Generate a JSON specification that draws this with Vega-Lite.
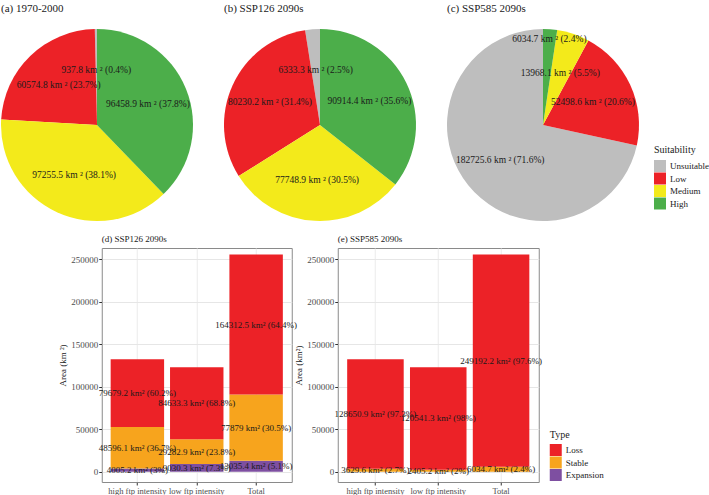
{
  "$schema": "https://vega.github.io/schema/vega-lite/v6.json",
  "background": "white",
  "padding": {"left": 1, "top": 3, "right": 0, "bottom": 0},
  "config": {
    "view": {"stroke": null},
    "font": "Liberation Serif",
    "title": {"font": "Liberation Serif", "fontWeight": "normal", "anchor": "start", "color": "#1a1a1a"},
    "axis": {"labelFont": "Liberation Serif", "titleFont": "Liberation Serif", "titleFontWeight": "normal"},
    "legend": {"labelFont": "Liberation Serif", "titleFont": "Liberation Serif", "titleFontWeight": "normal"},
    "text": {"font": "Liberation Serif"}
  },
  "datasets": {
    "suit": [
      {"panel": "a", "Suitability": "Unsuitable", "area": 937.8, "pct": 0.4},
      {"panel": "a", "Suitability": "Low", "area": 60574.8, "pct": 23.7},
      {"panel": "a", "Suitability": "Medium", "area": 97255.5, "pct": 38.1},
      {"panel": "a", "Suitability": "High", "area": 96458.9, "pct": 37.8},
      {"panel": "b", "Suitability": "Unsuitable", "area": 6333.3, "pct": 2.5},
      {"panel": "b", "Suitability": "Low", "area": 80230.2, "pct": 31.4},
      {"panel": "b", "Suitability": "Medium", "area": 77748.9, "pct": 30.5},
      {"panel": "b", "Suitability": "High", "area": 90914.4, "pct": 35.6},
      {"panel": "c", "Suitability": "Unsuitable", "area": 182725.6, "pct": 71.6},
      {"panel": "c", "Suitability": "Low", "area": 52498.6, "pct": 20.6},
      {"panel": "c", "Suitability": "Medium", "area": 13968.1, "pct": 5.5},
      {"panel": "c", "Suitability": "High", "area": 6034.7, "pct": 2.4}
    ],
    "change": [
      {"scenario": "SSP126", "group": "high ftp intensity", "Type": "Expansion", "area": 4005.2, "pct": 3},
      {"scenario": "SSP126", "group": "high ftp intensity", "Type": "Stable", "area": 48596.1, "pct": 36.7},
      {"scenario": "SSP126", "group": "high ftp intensity", "Type": "Loss", "area": 79679.2, "pct": 60.2},
      {"scenario": "SSP126", "group": "low ftp intensity", "Type": "Expansion", "area": 9030.3, "pct": 7.3},
      {"scenario": "SSP126", "group": "low ftp intensity", "Type": "Stable", "area": 29282.9, "pct": 23.8},
      {"scenario": "SSP126", "group": "low ftp intensity", "Type": "Loss", "area": 84633.3, "pct": 68.8},
      {"scenario": "SSP126", "group": "Total", "Type": "Expansion", "area": 13035.4, "pct": 5.1},
      {"scenario": "SSP126", "group": "Total", "Type": "Stable", "area": 77879, "pct": 30.5},
      {"scenario": "SSP126", "group": "Total", "Type": "Loss", "area": 164312.5, "pct": 64.4},
      {"scenario": "SSP585", "group": "high ftp intensity", "Type": "Stable", "area": 3629.6, "pct": 2.7},
      {"scenario": "SSP585", "group": "high ftp intensity", "Type": "Loss", "area": 128650.9, "pct": 97.3},
      {"scenario": "SSP585", "group": "low ftp intensity", "Type": "Stable", "area": 2405.2, "pct": 2},
      {"scenario": "SSP585", "group": "low ftp intensity", "Type": "Loss", "area": 120541.3, "pct": 98},
      {"scenario": "SSP585", "group": "Total", "Type": "Stable", "area": 6034.7, "pct": 2.4},
      {"scenario": "SSP585", "group": "Total", "Type": "Loss", "area": 249192.2, "pct": 97.6}
    ]
  },
  "vconcat": [
    {
      "hconcat": [
        {
          "width": 192, "height": 192,
          "title": {"text": "(a) 1970-2000", "fontSize": 11, "offset": 15},
          "data": {"name": "suit"},
          "transform": [
            {"filter": "datum.panel === 'a'"},
            {"calculate": "indexof(['High','Medium','Low','Unsuitable'], datum.Suitability)", "as": "k"},
            {"joinaggregate": [{"op": "sum", "field": "area", "as": "total"}]},
            {"stack": "area", "groupby": ["panel"], "sort": [{"field": "k", "order": "ascending"}], "as": ["t0", "t1"]},
            {"calculate": "datum.t0 / datum.total", "as": "f0"},
            {"calculate": "datum.t1 / datum.total", "as": "f1"},
            {"calculate": "(datum.f0 + datum.f1) / 2", "as": "fm"},
            {"calculate": "datum.area + ' km ² (' + datum.pct + '%)'", "as": "lab"}
          ],
          "layer": [
            {
              "mark": {"type": "arc", "outerRadius": 96},
              "encoding": {
                "theta": {"field": "f0", "type": "quantitative", "scale": {"domain": [0, 1], "nice": false}},
                "theta2": {"field": "f1"},
                "color": {"field": "Suitability", "type": "nominal", "legend": null,
                  "scale": {"domain": ["Unsuitable", "Low", "Medium", "High"], "range": ["#BEBEBE", "#EC2227", "#F3EA1B", "#4CAE4A"]}}
              }
            },
            {
              "mark": {"type": "text", "radius": 55, "fontSize": 9.5, "color": "#1a1a1a"},
              "encoding": {"theta": {"field": "fm", "type": "quantitative"}, "text": {"field": "lab"}}
            }
          ]
        },
        {
          "width": 192, "height": 192,
          "title": {"text": "(b) SSP126 2090s", "fontSize": 11, "offset": 15},
          "data": {"name": "suit"},
          "transform": [
            {"filter": "datum.panel === 'b'"},
            {"calculate": "indexof(['High','Medium','Low','Unsuitable'], datum.Suitability)", "as": "k"},
            {"joinaggregate": [{"op": "sum", "field": "area", "as": "total"}]},
            {"stack": "area", "groupby": ["panel"], "sort": [{"field": "k", "order": "ascending"}], "as": ["t0", "t1"]},
            {"calculate": "datum.t0 / datum.total", "as": "f0"},
            {"calculate": "datum.t1 / datum.total", "as": "f1"},
            {"calculate": "(datum.f0 + datum.f1) / 2", "as": "fm"},
            {"calculate": "datum.area + ' km ² (' + datum.pct + '%)'", "as": "lab"}
          ],
          "layer": [
            {
              "mark": {"type": "arc", "outerRadius": 96},
              "encoding": {
                "theta": {"field": "f0", "type": "quantitative", "scale": {"domain": [0, 1], "nice": false}},
                "theta2": {"field": "f1"},
                "color": {"field": "Suitability", "type": "nominal", "legend": null,
                  "scale": {"domain": ["Unsuitable", "Low", "Medium", "High"], "range": ["#BEBEBE", "#EC2227", "#F3EA1B", "#4CAE4A"]}}
              }
            },
            {
              "mark": {"type": "text", "radius": 55, "fontSize": 9.5, "color": "#1a1a1a"},
              "encoding": {"theta": {"field": "fm", "type": "quantitative"}, "text": {"field": "lab"}}
            }
          ]
        },
        {
          "width": 192, "height": 192,
          "title": {"text": "(c) SSP585 2090s", "fontSize": 11, "offset": 15},
          "data": {"name": "suit"},
          "transform": [
            {"filter": "datum.panel === 'c'"},
            {"calculate": "indexof(['High','Medium','Low','Unsuitable'], datum.Suitability)", "as": "k"},
            {"joinaggregate": [{"op": "sum", "field": "area", "as": "total"}]},
            {"stack": "area", "groupby": ["panel"], "sort": [{"field": "k", "order": "ascending"}], "as": ["t0", "t1"]},
            {"calculate": "datum.t0 / datum.total", "as": "f0"},
            {"calculate": "datum.t1 / datum.total", "as": "f1"},
            {"calculate": "(datum.f0 + datum.f1) / 2", "as": "fm"},
            {"calculate": "datum.area + ' km ² (' + datum.pct + '%)'", "as": "lab"}
          ],
          "layer": [
            {
              "mark": {"type": "arc", "outerRadius": 96},
              "encoding": {
                "theta": {"field": "f0", "type": "quantitative", "scale": {"domain": [0, 1], "nice": false}},
                "theta2": {"field": "f1"},
                "color": {"field": "Suitability", "type": "nominal",
                  "scale": {"domain": ["Unsuitable", "Low", "Medium", "High"], "range": ["#BEBEBE", "#EC2227", "#F3EA1B", "#4CAE4A"]},
                  "legend": {"title": "Suitability", "orient": "none", "legendX": 207, "legendY": 116, "padding": 0,
                    "symbolType": "square", "symbolSize": 144, "symbolStrokeWidth": 0, "rowPadding": 0.5,
                    "titleFontSize": 10, "labelFontSize": 9, "titleColor": "#1a1a1a", "labelColor": "#1a1a1a",
                    "titlePadding": 5, "labelOffset": 4}}
              }
            },
            {
              "mark": {"type": "text", "radius": {"expr": "datum.Suitability === 'High' ? 86 : 55"}, "fontSize": 9.5, "color": "#1a1a1a"},
              "encoding": {"theta": {"field": "fm", "type": "quantitative"}, "text": {"field": "lab"}}
            }
          ]
        }
      ],
      "spacing": 31,
      "bounds": "flush",
      "resolve": {"scale": {"theta": "independent", "color": "independent"}}
    },
    {
      "hconcat": [
        {
          "width": 190, "height": 234,
          "view": {"stroke": "#8a8a8a"},
          "title": {"text": "(d) SSP126 2090s", "fontSize": 9, "offset": 4, "frame": "group"},
          "data": {"name": "change"},
          "transform": [
            {"filter": "datum.scenario === 'SSP126'"},
            {"calculate": "indexof(['Expansion','Stable','Loss'], datum.Type)", "as": "k"},
            {"stack": "area", "groupby": ["group"], "sort": [{"field": "k", "order": "ascending"}], "as": ["y0", "y1"]},
            {"calculate": "(datum.y0 + datum.y1) / 2", "as": "ym"},
            {"calculate": "datum.area + ' km² (' + datum.pct + '%)'", "as": "lab"}
          ],
          "encoding": {
            "x": {"field": "group", "type": "nominal", "sort": ["high ftp intensity", "low ftp intensity", "Total"],
              "scale": {"paddingInner": 0.1, "paddingOuter": 0.15},
              "axis": {"title": null, "labelAngle": 0, "domain": false, "tickColor": "#333333", "tickSize": 3,
                "labelFontSize": 8.5, "labelColor": "#4d4d4d", "labelPadding": 1, "grid": true, "gridColor": "#ebebeb", "bandPosition": 0.5}}
          },
          "layer": [
            {
              "mark": {"type": "bar"},
              "encoding": {
                "y": {"field": "y0", "type": "quantitative",
                  "scale": {"domain": [-12000, 263000], "nice": false, "zero": false},
                  "axis": {"title": "Area (km ²)", "values": [0, 25000, 50000, 75000, 100000, 125000, 150000, 175000, 200000, 225000, 250000],
                    "format": "d", "labelExpr": "datum.value % 50000 === 0 ? datum.label : ''",
                    "tickOpacity": {"condition": {"test": "datum.value % 50000 === 0", "value": 1}, "value": 0},
                    "gridColor": {"condition": {"test": "datum.value % 50000 === 0", "value": "#e6e6e6"}, "value": "#f3f3f3"},
                    "domain": false, "tickColor": "#333333", "tickSize": 3, "labelFontSize": 9, "labelColor": "#4d4d4d",
                    "labelPadding": 1, "titleFontSize": 9, "titleColor": "#1a1a1a", "titlePadding": 3}},
                "y2": {"field": "y1"},
                "color": {"field": "Type", "type": "nominal", "legend": null,
                  "scale": {"domain": ["Loss", "Stable", "Expansion"], "range": ["#EC2227", "#F7A41D", "#7E4FA1"]}}
              }
            },
            {
              "mark": {"type": "text", "fontSize": 9, "color": "#1a1a1a"},
              "encoding": {"y": {"field": "ym", "type": "quantitative"}, "text": {"field": "lab"}}
            }
          ]
        },
        {
          "width": 201, "height": 234,
          "view": {"stroke": "#8a8a8a"},
          "title": {"text": "(e) SSP585 2090s", "fontSize": 9, "offset": 4, "frame": "group"},
          "data": {"name": "change"},
          "transform": [
            {"filter": "datum.scenario === 'SSP585'"},
            {"calculate": "indexof(['Expansion','Stable','Loss'], datum.Type)", "as": "k"},
            {"stack": "area", "groupby": ["group"], "sort": [{"field": "k", "order": "ascending"}], "as": ["y0", "y1"]},
            {"calculate": "(datum.y0 + datum.y1) / 2", "as": "ym"},
            {"calculate": "datum.area + ' km² (' + datum.pct + '%)'", "as": "lab"}
          ],
          "encoding": {
            "x": {"field": "group", "type": "nominal", "sort": ["high ftp intensity", "low ftp intensity", "Total"],
              "scale": {"paddingInner": 0.1, "paddingOuter": 0.15},
              "axis": {"title": null, "labelAngle": 0, "domain": false, "tickColor": "#333333", "tickSize": 3,
                "labelFontSize": 8.5, "labelColor": "#4d4d4d", "labelPadding": 1, "grid": true, "gridColor": "#ebebeb", "bandPosition": 0.5}}
          },
          "layer": [
            {
              "mark": {"type": "bar"},
              "encoding": {
                "y": {"field": "y0", "type": "quantitative",
                  "scale": {"domain": [-12000, 263000], "nice": false, "zero": false},
                  "axis": {"title": "Area (km²)", "values": [0, 25000, 50000, 75000, 100000, 125000, 150000, 175000, 200000, 225000, 250000],
                    "format": "d", "labelExpr": "datum.value % 50000 === 0 ? datum.label : ''",
                    "tickOpacity": {"condition": {"test": "datum.value % 50000 === 0", "value": 1}, "value": 0},
                    "gridColor": {"condition": {"test": "datum.value % 50000 === 0", "value": "#e6e6e6"}, "value": "#f3f3f3"},
                    "domain": false, "tickColor": "#333333", "tickSize": 3, "labelFontSize": 9, "labelColor": "#4d4d4d",
                    "labelPadding": 1, "titleFontSize": 9, "titleColor": "#1a1a1a", "titlePadding": 3}},
                "y2": {"field": "y1"},
                "color": {"field": "Type", "type": "nominal",
                  "scale": {"domain": ["Loss", "Stable", "Expansion"], "range": ["#EC2227", "#F7A41D", "#7E4FA1"]},
                  "legend": {"title": "Type", "orient": "none", "legendX": 208, "legendY": 178, "padding": 4,
                    "symbolType": "square", "symbolSize": 144, "symbolStrokeWidth": 0, "rowPadding": 0.5,
                    "titleFontSize": 10, "labelFontSize": 9, "titleColor": "#1a1a1a", "labelColor": "#1a1a1a",
                    "titlePadding": 4, "labelOffset": 4}}
              }
            },
            {
              "mark": {"type": "text", "fontSize": 9, "color": "#1a1a1a"},
              "encoding": {"y": {"field": "ym", "type": "quantitative"}, "text": {"field": "lab"}}
            }
          ]
        }
      ],
      "spacing": 46,
      "bounds": "flush",
      "resolve": {"scale": {"x": "independent", "y": "independent", "color": "independent"}}
    }
  ],
  "spacing": 13,
  "center": true,
  "resolve": {"scale": {"color": "independent", "theta": "independent", "x": "independent", "y": "independent"}}
}
